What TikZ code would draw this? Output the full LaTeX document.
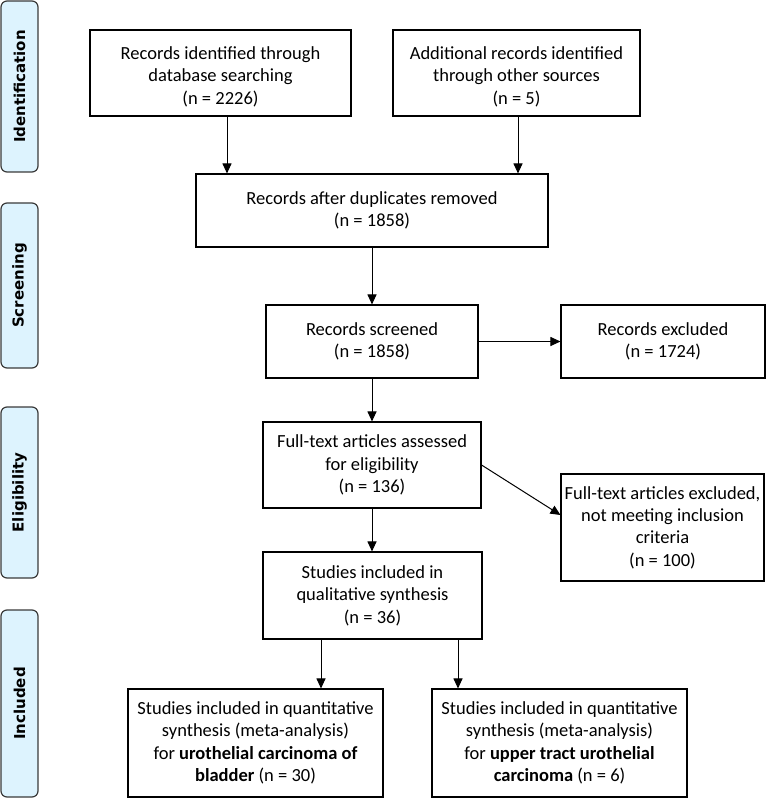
\documentclass[tikz,border=0pt]{standalone}
\usepackage{fontspec}
\setmainfont{Carlito}
\newfontfamily\sidefont{DejaVu Sans}[BoldFont={DejaVu Sans Bold}]
\usetikzlibrary{arrows.meta}
\definecolor{barfill}{HTML}{DDF3FE}
\definecolor{barline}{HTML}{3A3A3A}
\begin{document}
\begin{tikzpicture}[x=1pt,y=-1pt,
  box/.style={draw=black,line width=1.1pt,align=center,inner sep=2pt,
    font=\fontsize{18.5}{22.4}\selectfont},
  bar/.style={draw=barline,fill=barfill,line width=1.2pt,rounded corners=6pt,
    rotate=90,minimum height=37pt,inner sep=0pt,
    font=\sidefont\bfseries\fontsize{15}{18}\selectfont},
  arr/.style={-{Triangle[length=10pt,width=9pt]},line width=1pt,black}]
\useasboundingbox (0,0) rectangle (780,799);
% side bars
\node[bar,minimum width=171pt] (s1) at (19.5,86.5) {Identification};
\node[bar,minimum width=165pt] (s2) at (19.5,285.5) {Screening};
\node[bar,minimum width=171pt] (s3) at (19.5,492.5) {Eligibility};
\node[bar,minimum width=187pt] (s4) at (19.5,703.5) {Included};
% boxes
\node[box,minimum width=261pt,minimum height=86pt] (A) at (220.5,73)
  {\rule{0pt}{20pt}Records identified through\\database searching\\(n = 2226)};
\node[box,minimum width=247pt,minimum height=86pt] (B) at (516.5,73)
  {\rule{0pt}{20pt}Additional records identified\\through other sources\\(n = 5)};
\node[box,minimum width=352pt,minimum height=73pt] (C) at (372,210.5)
  {Records after duplicates removed\\(n = 1858)};
\node[box,minimum width=212pt,minimum height=73pt] (D) at (372,341.5)
  {Records screened\\(n = 1858)};
\node[box,minimum width=204pt,minimum height=73pt] (E) at (663,341.5)
  {Records excluded\\(n = 1724)};
\node[box,minimum width=218pt,minimum height=86pt] (F) at (372,465)
  {Full-text articles assessed\\for eligibility\\(n = 136)};
\node[box,minimum width=203pt,minimum height=107pt] (G) at (662.5,527.5)
  {Full-text articles excluded,\\not meeting inclusion\\criteria\\(n = 100)};
\node[box,minimum width=219pt,minimum height=87pt] (H) at (372.5,595.5)
  {Studies included in\\qualitative synthesis\\(n = 36)};
\node[box,minimum width=255pt,minimum height=108pt] (I) at (255.5,743)
  {Studies included in quantitative\\synthesis (meta-analysis)\\for \textbf{urothelial carcinoma of}\\\textbf{bladder} (n = 30)};
\node[box,minimum width=255pt,minimum height=108pt] (J) at (559.5,743)
  {Studies included in quantitative\\synthesis (meta-analysis)\\for \textbf{upper tract urothelial}\\\textbf{carcinoma} (n = 6)};
% connectors
\draw[arr] ([xshift=6.5pt]A.south) -- ([xshift=6.5pt]A.south |- C.north);
\draw[arr] ([xshift=1.5pt]B.south) -- ([xshift=1.5pt]B.south |- C.north);
\draw[arr] (C.south) -- (D.north);
\draw[arr] (D.east) -- (E.west);
\draw[arr] (D.south) -- (F.north);
\draw[arr] (F.east) -- ([yshift=12.5pt]G.west);
\draw[arr] ([xshift=-0.5pt]H.north |- F.south) -- ([xshift=-0.5pt]H.north);
\draw[arr] ([xshift=-51.5pt]H.south) -- ([xshift=-51.5pt]H.south |- I.north);
\draw[arr] ([xshift=85.5pt]H.south) -- ([xshift=85.5pt]H.south |- J.north);
\end{tikzpicture}
\end{document}
